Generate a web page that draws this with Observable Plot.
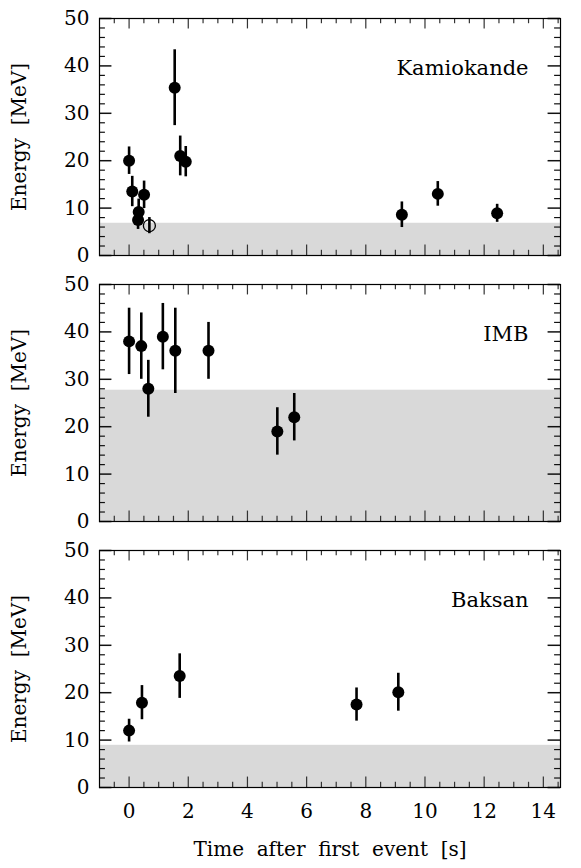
<!DOCTYPE html>
<html><head><meta charset="utf-8">
<script src="https://cdn.jsdelivr.net/npm/d3@7"></script>
<script src="https://cdn.jsdelivr.net/npm/@observablehq/plot@0.6"></script>
<style>body{margin:0;background:#fff} svg{display:block}</style>
</head><body><div id="chart"></div>
<script>
// Kamiokande-II events
const kamT = [0, 0.107, 0.303, 0.324, 0.507, 0.686, 1.541, 1.728, 1.915, 9.219, 10.433, 12.439];
const kamE = [20.0, 13.5, 7.5, 9.2, 12.8, 6.3, 35.4, 21.0, 19.8, 8.6, 13.0, 8.9];
const kamErr = [2.9, 3.2, 2.0, 2.7, 2.9, 1.7, 8.0, 4.2, 3.2, 2.7, 2.6, 1.9];
const kamOpen = [false, false, false, false, false, true, false, false, false, false, false, false];
// IMB events
const imbT = [0, 0.412, 0.650, 1.141, 1.562, 2.684, 5.010, 5.582];
const imbE = [38, 37, 28, 39, 36, 36, 19, 22];
const imbErr = [7, 7, 6, 7, 9, 6, 5, 5];
// Baksan events
const bakT = [0, 0.435, 1.710, 7.687, 9.099];
const bakE = [12.0, 17.9, 23.5, 17.5, 20.1];
const bakErr = [2.4, 3.6, 4.7, 3.5, 4.0];
// detector thresholds (shaded band)
const thresholds = [6.8, 27.7, 8.9];
const names = ["Kamiokande", "IMB", "Baksan"];
const xTicks = [0, 2, 4, 6, 8, 10, 12, 14];
const yTicks = [0, 10, 20, 30, 40, 50];

const X0 = -1, X1 = 14.58;
const font = "'DejaVu Serif', 'Liberation Serif', serif";
const xMinor = d3.range(-0.5, 14.6, 0.5).filter(v => !xTicks.includes(v));
const yMinor = d3.range(2, 50, 2).filter(v => v % 10 !== 0);

function panel(i, T, E, Err, open, mt, mb, bottom) {
  const rows = T.map((t, j) => ({t, e: E[j], err: Err[j], open: open ? open[j] : false}));
  const frameH = 237;
  return Plot.plot({
    width: 581, height: mt + frameH + mb,
    marginLeft: 99, marginRight: 21, marginTop: mt, marginBottom: mb,
    style: {fontFamily: font, fontSize: "20px", color: "black"},
    x: {domain: [X0, X1], axis: null},
    y: {domain: [0, 50], axis: null},
    marks: [
      Plot.rect([0], {x1: X0, x2: X1, y1: 0, y2: thresholds[i], fill: "#d9d9d9"}),
      // x ticks, bottom and top, inward
      Plot.ruleX(xTicks, {y1: 0, y2: 2.2, stroke: "#333", strokeWidth: 1.2}),
      Plot.ruleX(xTicks, {y1: 50, y2: 47.8, stroke: "#333", strokeWidth: 1.2}),
      Plot.ruleX(xMinor, {y1: 0, y2: 1.1, stroke: "#333", strokeWidth: 1.2}),
      Plot.ruleX(xMinor, {y1: 50, y2: 48.9, stroke: "#333", strokeWidth: 1.2}),
      // y ticks, left and right, inward
      Plot.ruleY(yTicks, {x1: X0, x2: X0 + 0.42, stroke: "#111", strokeWidth: 1.5}),
      Plot.ruleY(yTicks, {x1: X1, x2: X1 - 0.42, stroke: "#111", strokeWidth: 1.5}),
      Plot.ruleY(yMinor, {x1: X0, x2: X0 + 0.2, stroke: "#111", strokeWidth: 1.2}),
      Plot.ruleY(yMinor, {x1: X1, x2: X1 - 0.2, stroke: "#111", strokeWidth: 1.2}),
      Plot.frame({stroke: "black", strokeWidth: 1.2}),
      Plot.axisY(yTicks, {tickSize: 0, tickPadding: 10, fontSize: 20, label: null}),
      Plot.text(["Energy  [MeV]"], {frameAnchor: "left", textAnchor: "middle", dx: -80, rotate: -90, fontSize: 20}),
      bottom ? Plot.axisX(xTicks, {tickSize: 0, tickPadding: 16, fontSize: 20, label: null}) : null,
      bottom ? Plot.text(["Time  after  first  event  [s]"], {frameAnchor: "bottom", dy: 68, fontSize: 20}) : null,
      // error bars and points
      Plot.ruleX(rows, {x: "t", y1: d => d.e - d.err, y2: d => d.e + d.err, stroke: "black", strokeWidth: 2.6}),
      Plot.dot(rows, {x: "t", y: "e", r: 6, fill: d => d.open ? "none" : "black",
        stroke: "black", strokeWidth: d => d.open ? 1.3 : 0}),
      Plot.text([names[i]], {x: 13.5, y: 39.6, textAnchor: "end", fontSize: 21})
    ]
  });
}

const el = document.getElementById("chart");
el.appendChild(panel(0, kamT, kamE, kamErr, kamOpen, 18, 14, false));
el.appendChild(panel(1, imbT, imbE, imbErr, null, 15, 15, false));
el.appendChild(panel(2, bakT, bakE, bakErr, null, 14, 82, true));
</script></body></html>
